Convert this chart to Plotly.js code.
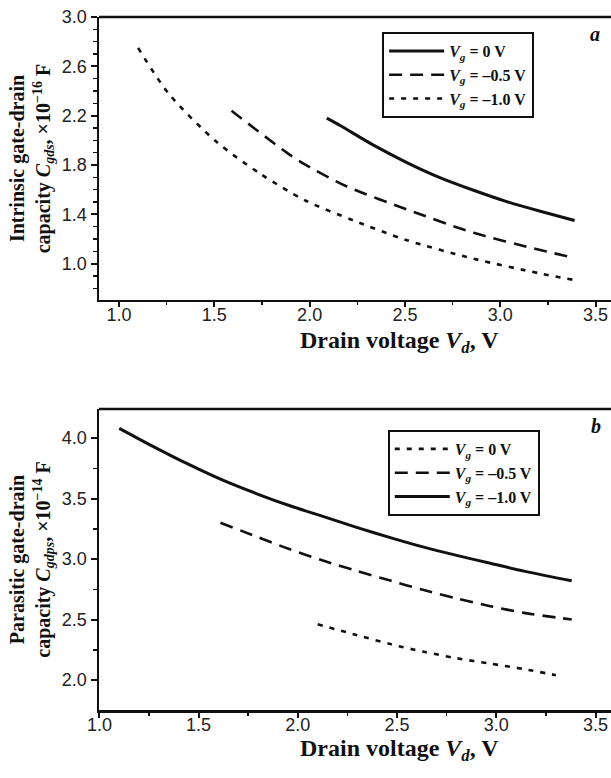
<!DOCTYPE html>
<html>
<head>
<meta charset="utf-8">
<script src="https://cdn.plot.ly/plotly-3.0.1.min.js"></script>
<style>html,body{margin:0;padding:0;background:#fff}#chart{width:611px;height:778px}</style>
</head>
<body>
<div id="chart"></div>
<script>
// ---- Panel a: intrinsic gate-drain capacity (x 1e-16 F) ----
const a_vg0_x  = [2.09, 2.16, 2.33, 2.51, 2.68, 2.86, 3.03, 3.21, 3.39];
const a_vg0_y  = [2.18, 2.12, 1.965, 1.82, 1.70, 1.595, 1.505, 1.425, 1.35];
const a_vg05_x = [1.59, 1.88, 1.98, 2.19, 2.51, 2.86, 3.21, 3.38];
const a_vg05_y = [2.24, 1.90, 1.80, 1.63, 1.44, 1.25, 1.11, 1.05];
const a_vg10_x = [1.10, 1.26, 1.51, 1.74, 1.98, 2.23, 2.51, 2.86, 3.21, 3.38];
const a_vg10_y = [2.75, 2.38, 1.99, 1.73, 1.51, 1.35, 1.19, 1.04, 0.92, 0.87];

// ---- Panel b: parasitic gate-drain capacity (x 1e-14 F) ----
const b_vg0_x  = [2.10, 2.30, 2.47, 2.63, 2.80, 2.97, 3.14, 3.30];
const b_vg0_y  = [2.46, 2.37, 2.295, 2.235, 2.18, 2.135, 2.09, 2.04];
const b_vg05_x = [1.61, 1.80, 1.96, 2.13, 2.30, 2.47, 2.63, 2.80, 2.97, 3.14, 3.38];
const b_vg05_y = [3.30, 3.18, 3.08, 2.985, 2.90, 2.82, 2.745, 2.675, 2.61, 2.555, 2.50];
const b_vg10_x = [1.10, 1.26, 1.44, 1.61, 1.80, 1.96, 2.13, 2.30, 2.47, 2.63, 2.80, 2.97, 3.14, 3.38];
const b_vg10_y = [4.08, 3.94, 3.79, 3.66, 3.535, 3.44, 3.35, 3.26, 3.175, 3.10, 3.03, 2.965, 2.90, 2.82];

const names = ['<i>V<sub>g</sub></i> = 0 V', '<i>V<sub>g</sub></i> = \u20130.5 V', '<i>V<sub>g</sub></i> = \u20131.0 V'];
const xTickVals = [1.0, 1.5, 2.0, 2.5, 3.0, 3.5];

const serif = 'Liberation Serif, Times New Roman, serif';
const sans = 'Liberation Sans, Arial, sans-serif';
const solid = {color:'#111', width:3, dash:'solid', shape:'spline', smoothing:0.8};
const dashed = {color:'#111', width:2.6, dash:'13px,8px', shape:'spline', smoothing:0.8};
const dotted = {color:'#111', width:2.6, dash:'5px,7px', shape:'spline', smoothing:0.8};

const traces = [
  {x:a_vg0_x, y:a_vg0_y, name:names[0], mode:'lines', line:solid, xaxis:'x', yaxis:'y', legend:'legend'},
  {x:a_vg05_x, y:a_vg05_y, name:names[1], mode:'lines', line:dashed, xaxis:'x', yaxis:'y', legend:'legend'},
  {x:a_vg10_x, y:a_vg10_y, name:names[2], mode:'lines', line:dotted, xaxis:'x', yaxis:'y', legend:'legend'},
  {x:b_vg0_x, y:b_vg0_y, name:names[0], mode:'lines', line:dotted, xaxis:'x2', yaxis:'y2', legend:'legend2'},
  {x:b_vg05_x, y:b_vg05_y, name:names[1], mode:'lines', line:dashed, xaxis:'x2', yaxis:'y2', legend:'legend2'},
  {x:b_vg10_x, y:b_vg10_y, name:names[2], mode:'lines', line:solid, xaxis:'x2', yaxis:'y2', legend:'legend2'}
];

const tickFont = {family:sans, size:18, color:'#222'};
const yTitleFont = {family:serif, size:20, color:'#111', weight:'bold'};
const xTitleFont = {family:serif, size:24, color:'#111', weight:'bold'};
const legFont = {family:serif, size:16, color:'#111', weight:'bold'};

function xax(range, anchor){
  return {range:range, anchor:anchor, domain:[0,1], tickvals:xTickVals, ticktext:xTickVals.map(v=>v.toFixed(1)),
    ticks:'outside', ticklen:5, tickwidth:2, tickcolor:'#111', ticklabelstandoff:-8,
    minor:{dtick:0.25, tick0:1.0, ticks:'outside', ticklen:3, tickwidth:1.5, tickcolor:'#111'},
    showline:true, linecolor:'#111', linewidth:2.5, showgrid:false, zeroline:false,
    tickfont:tickFont, fixedrange:true};
}
function yax(range, domain, tick0, dtick, minorDtick, anchor, title){
  return {range:range, domain:domain, anchor:anchor, dtick:dtick, tick0:tick0, tickformat:'.1f',
    ticks:'outside', ticklen:6, tickwidth:2, tickcolor:'#111',
    minor:{dtick:minorDtick, tick0:tick0, ticks:'outside', ticklen:4, tickwidth:1.5, tickcolor:'#111'},
    showline:true, linecolor:'#111', linewidth:2.5, showgrid:false, zeroline:false,
    tickfont:tickFont, fixedrange:true,
    title:{text:title, font:yTitleFont, standoff:6}};
}

const layout = {
  width:611, height:778,
  margin:{l:99, r:0, t:0, b:0},
  paper_bgcolor:'#fff', plot_bgcolor:'#fff',
  showlegend:true,
  xaxis:xax([0.895, 3.581], 'y'),
  yaxis:yax([0.705, 3.0], [0.6144, 0.9781], 1.0, 0.4, 0.1, 'x',
    'Intrinsic gate-drain<br>capacity <i>C<sub>gds</sub></i>, \u00d710<sup>\u221216</sup> F'),
  xaxis2:xax([0.998, 3.578], 'y2'),
  yaxis2:yax([1.752, 4.24], [0.0874, 0.4743], 2.0, 0.5, 0.25, 'x2',
    'Parasitic gate-drain<br>capacity <i>C<sub>gdps</sub></i>, \u00d710<sup>\u221214</sup> F'),
  legend:{x:0.553, y:1-32/778, xanchor:'left', yanchor:'top', bordercolor:'#111', borderwidth:2,
    bgcolor:'#fff', font:legFont, tracegroupgap:0, itemwidth:55},
  legend2:{x:0.564, y:1-430/778, xanchor:'left', yanchor:'top', bordercolor:'#111', borderwidth:2,
    bgcolor:'#fff', font:legFont, tracegroupgap:0, itemwidth:55},
  shapes:[
    {type:'line', xref:'x domain', yref:'y domain', x0:0, x1:1, y0:1, y1:1, line:{color:'#111', width:2.5}},
    {type:'line', xref:'x2 domain', yref:'y2 domain', x0:0, x1:1, y0:1, y1:1, line:{color:'#111', width:2.5}}
  ],
  annotations:[
    {text:'Drain voltage <i>V<sub>d</sub></i>, V', xref:'paper', yref:'paper', x:(399-99)/512, y:1-342/778,
      xanchor:'center', yanchor:'middle', showarrow:false, font:xTitleFont},
    {text:'Drain voltage <i>V<sub>d</sub></i>, V', xref:'paper', yref:'paper', x:(399-99)/512, y:1-750/778,
      xanchor:'center', yanchor:'middle', showarrow:false, font:xTitleFont},
    {text:'<b><i>a</i></b>', xref:'paper', yref:'paper', x:0.969, y:1-34/778,
      xanchor:'center', yanchor:'middle', showarrow:false, font:{family:serif, size:20, color:'#111'}},
    {text:'<b><i>b</i></b>', xref:'paper', yref:'paper', x:0.971, y:1-426/778,
      xanchor:'center', yanchor:'middle', showarrow:false, font:{family:serif, size:20, color:'#111'}}
  ]
};

Plotly.newPlot('chart', traces, layout, {displayModeBar:false, staticPlot:true});
</script>
</body>
</html>
